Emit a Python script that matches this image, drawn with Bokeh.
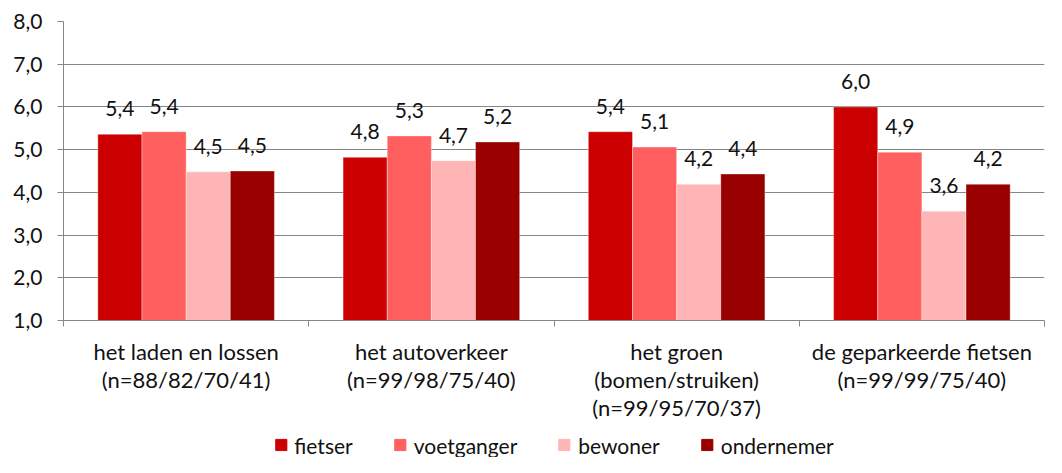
from bokeh.plotting import figure
from bokeh.layouts import column
from bokeh.models import ColumnDataSource, FixedTicker, LabelSet, Legend, LegendItem
from bokeh.core.properties import value
from bokeh.embed import file_html
from bokeh.resources import INLINE

categories = ["het laden en lossen\n(n=88/82/70/41)",
              "het autoverkeer\n(n=99/98/75/40)",
              "het groen\n(bomen/struiken)\n(n=99/95/70/37)",
              "de geparkeerde fietsen\n(n=99/99/75/40)"]
series = ["fietser", "voetganger", "bewoner", "ondernemer"]
fietser = [5.36, 4.82, 5.42, 6.00]
voetganger = [5.42, 5.32, 5.06, 4.94]
bewoner = [4.48, 4.74, 4.19, 3.56]
ondernemer = [4.50, 5.18, 4.43, 4.19]
colors = ["#CC0000", "#FF5F5F", "#FFB5B5", "#990000"]
y_ticks = [1, 2, 3, 4, 5, 6, 7, 8]

FONT = "Lato"
FS = "21px"
FS_CAT = "22px"
GRAY = "#868686"
TXT = "#111111"
values = [fietser, voetganger, bewoner, ondernemer]
n = len(categories)
centers = [i + 0.5 for i in range(n)]
bw = 0.18

W = 1046
H_MAIN = 432
H_LEG = 25

p = figure(width=W, height=H_MAIN, output_backend="svg", toolbar_location=None,
           x_range=(0, n), y_range=(1, 8), min_border_left=63, min_border_right=2,
           min_border_top=21, min_border_bottom=H_MAIN - 320)
p.outline_line_color = None

# legend strip: its renderers share the bar data but lie outside its view
leg = figure(width=W, height=H_LEG, output_backend="svg", toolbar_location=None,
             x_range=(100, 101), y_range=(100, 101), min_border=0)
leg.axis.visible = False
leg.grid.visible = False
leg.outline_line_color = None

items = []
for j, (name, vals, col) in enumerate(zip(series, values, colors)):
    off = (j - 1.5) * bw
    src = ColumnDataSource(dict(x=[c + off for c in centers], top=vals,
                                lab=[f"{v:.1f}".replace(".", ",") for v in vals]))
    p.vbar(x="x", top="top", bottom=1, width=bw, source=src, fill_color=col,
           line_color="white", line_alpha=0.35, line_width=1)
    ls = LabelSet(x="x", y="top", text="lab", source=src, text_align="center",
                  text_baseline="alphabetic", y_offset=18, text_font=value(FONT),
                  text_font_size=value(FS), text_color=TXT)
    p.add_layout(ls)
    r = leg.vbar(x="x", top="top", bottom=1, width=bw, source=src,
                 fill_color=col, line_color=col)
    items.append(LegendItem(label=name, renderers=[r]))

# y axis
p.yaxis.ticker = FixedTicker(ticks=y_ticks)
p.yaxis.major_label_overrides = {t: f"{t:.1f}".replace(".", ",") for t in y_ticks}
p.yaxis.major_label_text_font = FONT
p.yaxis.major_label_text_font_size = FS
p.yaxis.major_label_text_color = TXT
p.yaxis.axis_line_color = GRAY
p.yaxis.major_tick_line_color = GRAY
p.yaxis.major_tick_out = 6
p.yaxis.major_tick_in = 0
p.yaxis.minor_tick_line_color = None
p.yaxis.major_label_standoff = 15

p.ygrid.ticker = FixedTicker(ticks=y_ticks)
p.ygrid.grid_line_color = GRAY
p.xgrid.grid_line_color = None

# x axis
p.xaxis.ticker = FixedTicker(ticks=centers, minor_ticks=list(range(n + 1)))
p.xaxis.major_label_overrides = {c: lab for c, lab in zip(centers, categories)}
p.xaxis.major_label_text_font = FONT
p.xaxis.major_label_text_font_size = FS_CAT
p.xaxis.major_label_text_color = TXT
p.xaxis.major_label_text_line_height = 1.05
p.xaxis.axis_line_color = GRAY
p.xaxis.major_tick_line_color = None
p.xaxis.major_tick_out = 0
p.xaxis.major_tick_in = 0
p.xaxis.minor_tick_line_color = GRAY
p.xaxis.minor_tick_out = 6
p.xaxis.minor_tick_in = 0
p.xaxis.major_label_standoff = 11

legend = Legend(items=items, orientation="horizontal", location="center",
                label_text_font=FONT, label_text_font_size=FS, label_text_color=TXT,
                glyph_width=14, glyph_height=14, label_standoff=7, spacing=40,
                border_line_color=None, background_fill_alpha=0, margin=0, padding=0)
leg.add_layout(legend, "center")

layout = column(p, leg, spacing=0)
open("out.html", "w").write(file_html(layout, INLINE))
